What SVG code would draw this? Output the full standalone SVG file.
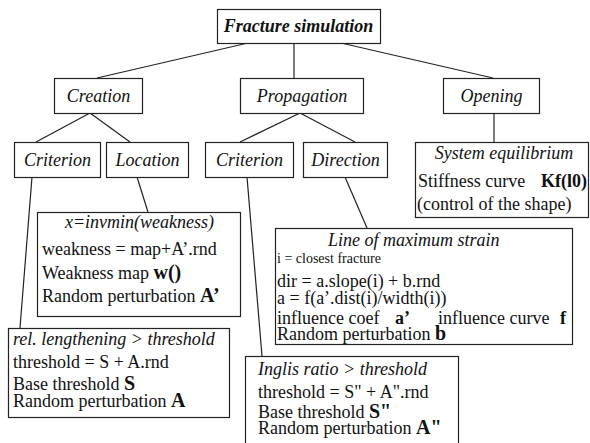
<svg xmlns="http://www.w3.org/2000/svg" width="590" height="443" viewBox="0 0 590 443" font-family="'Liberation Serif','Times New Roman',serif">
<style>
.box{fill:#fff;stroke:#222;stroke-width:1.2}
.ln{stroke:#222;stroke-width:1.2;fill:none}
text{font-family:"Liberation Serif","Times New Roman",serif;font-size:18px;fill:#111}
.it{font-style:italic}
.c{text-anchor:middle}
.b{font-weight:bold;font-size:20px}
.sm{font-size:14px}
</style>
<rect width="590" height="443" fill="#fff"/>
<g id="connectors">
<line class="ln" x1="248" y1="43" x2="97" y2="78"/>
<line class="ln" x1="294" y1="43" x2="294" y2="78"/>
<line class="ln" x1="341" y1="43" x2="493" y2="78"/>
<line class="ln" x1="90" y1="113" x2="36" y2="142"/>
<line class="ln" x1="90" y1="113" x2="130" y2="142"/>
<line class="ln" x1="300" y1="113" x2="240" y2="142"/>
<line class="ln" x1="300" y1="113" x2="355" y2="142"/>
<line class="ln" x1="494" y1="113" x2="494" y2="142"/>
<line class="ln" x1="32" y1="177" x2="20" y2="328"/>
<line class="ln" x1="137" y1="177" x2="148" y2="212"/>
<line class="ln" x1="247" y1="177" x2="262" y2="356"/>
<line class="ln" x1="345" y1="177" x2="367" y2="228"/>
</g>
<g id="fracture">
<rect class="box" x="217.5" y="9.5" width="163" height="34"/>
<text class="c" x="298.5" y="32" font-style="italic" font-weight="bold">Fracture simulation</text>
</g>
<g id="creation">
<rect class="box" x="54.5" y="78.5" width="88" height="35"/>
<text class="it c" x="98.5" y="102">Creation</text>
</g>
<g id="propagation">
<rect class="box" x="240.5" y="78.5" width="123" height="35"/>
<text class="it c" x="302" y="102">Propagation</text>
</g>
<g id="opening">
<rect class="box" x="443.5" y="78.5" width="96" height="35"/>
<text class="it c" x="491.5" y="102">Opening</text>
</g>
<g id="criterion1">
<rect class="box" x="14.5" y="142.5" width="86" height="35"/>
<text class="it c" x="57.5" y="166">Criterion</text>
</g>
<g id="location">
<rect class="box" x="106.5" y="142.5" width="82" height="35"/>
<text class="it c" x="147.5" y="166">Location</text>
</g>
<g id="criterion2">
<rect class="box" x="205.5" y="142.5" width="88" height="35"/>
<text class="it c" x="249.5" y="166">Criterion</text>
</g>
<g id="direction">
<rect class="box" x="303.5" y="142.5" width="84" height="35"/>
<text class="it c" x="345.5" y="166">Direction</text>
</g>
<g id="system">
<rect class="box" x="415.5" y="142.5" width="173" height="75"/>
<text class="it c" x="504" y="159">System equilibrium</text>
<text x="418" y="187">Stiffness curve</text>
<text x="541" y="187" font-weight="bold" font-size="19px">Kf(l0)</text>
<text x="417" y="210">(control of the shape)</text>
</g>
<g id="location-detail">
<rect class="box" x="37.5" y="212.5" width="203" height="104"/>
<text class="it c" x="139.5" y="228">x=invmin(weakness)</text>
<text x="42" y="255">weakness = map+A’.rnd</text>
<text x="42" y="279">Weakness map <tspan class="b">w()</tspan></text>
<text x="42" y="302">Random perturbation <tspan class="b">A’</tspan></text>
</g>
<g id="direction-detail">
<rect class="box" x="275.5" y="228.5" width="297" height="116"/>
<text class="it" x="328" y="246">Line of maximum strain</text>
<text class="sm" x="277" y="263">i = closest fracture</text>
<text x="277" y="287">dir = a.slope(i) + b.rnd</text>
<text x="277" y="304">a = f(a’.dist(i)/width(i))</text>
<text x="277" y="324">influence coef</text>
<text x="395" y="324" font-weight="bold" font-size="19px">a’</text>
<text x="438" y="324">influence curve</text>
<text x="560" y="324" font-weight="bold" font-size="19px">f</text>
<text x="277" y="340">Random perturbation <tspan class="b">b</tspan></text>
</g>
<g id="criterion1-detail">
<rect class="box" x="8.5" y="328.5" width="221" height="89"/>
<text class="it" x="13" y="345">rel. lengthening &gt; threshold</text>
<text x="13" y="368">threshold = S + A.rnd</text>
<text x="13" y="390">Base threshold <tspan class="b">S</tspan></text>
<text x="13" y="407">Random perturbation <tspan class="b">A</tspan></text>
</g>
<g id="criterion2-detail">
<rect class="box" x="245.5" y="356.5" width="213" height="90"/>
<text class="it" x="258" y="375">Inglis ratio &gt; threshold</text>
<text x="258" y="398">threshold = S" + A".rnd</text>
<text x="258" y="418">Base threshold <tspan class="b">S"</tspan></text>
<text x="258" y="434">Random perturbation <tspan class="b">A"</tspan></text>
</g>
</svg>
